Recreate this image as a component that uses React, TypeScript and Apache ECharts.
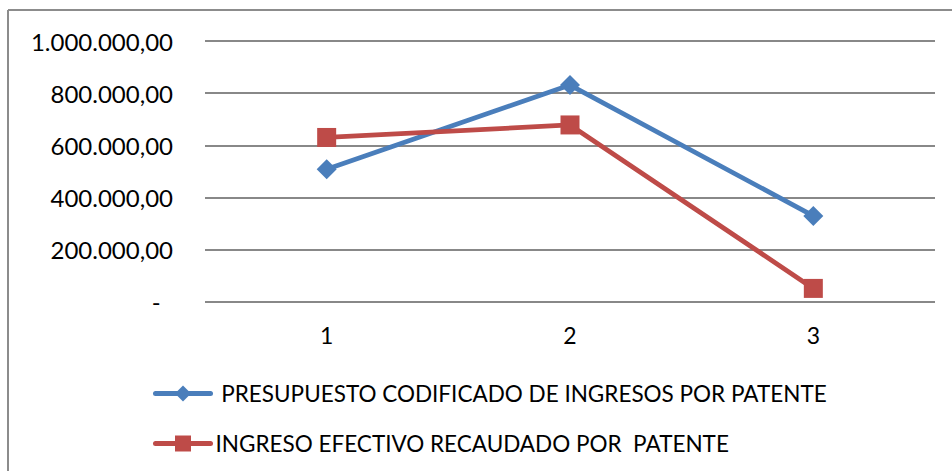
import React, { useEffect, useRef } from "react";
import * as echarts from "echarts";

const categories = ["1", "2", "3"];
const presupuesto = [508000, 831000, 329000];
const ingreso = [630000, 678000, 51000];
const seriesNames = [" PRESUPUESTO CODIFICADO DE INGRESOS POR PATENTE", "INGRESO EFECTIVO RECAUDADO POR  PATENTE"];
const yTicks = [0, 200000, 400000, 600000, 800000, 1000000];

const fmt = (v: number) => {
  if (v === 0) return "-  ";
  const s = Math.round(v).toString().replace(/\B(?=(\d{3})+(?!\d))/g, ".");
  return s + ",00";
};

export default function App() {
  const ref = useRef<HTMLDivElement>(null);
  useEffect(() => {
    const chart = echarts.init(ref.current!, null, { renderer: "svg" });
    const font = "Lato";
    chart.setOption({
      animation: false,
      backgroundColor: "#ffffff",
      textStyle: { fontFamily: font },
      grid: { left: 205, right: 17, top: 41, bottom: 471 - 301.7, containLabel: false },
      xAxis: {
        type: "category",
        data: categories,
        boundaryGap: true,
        axisLine: { show: false },
        axisTick: { show: false },
        axisLabel: { color: "#000", fontSize: 23, fontFamily: font, margin: 22 },
      },
      yAxis: {
        type: "value",
        min: yTicks[0],
        max: yTicks[yTicks.length - 1],
        interval: 200000,
        axisLine: { show: false },
        axisTick: { show: false },
        splitLine: { lineStyle: { color: "#888888", width: 2 } },
        axisLabel: { color: "#000", fontSize: 24, fontFamily: font, margin: 32, formatter: fmt },
      },
      legend: {
        orient: "vertical",
        left: 153,
        top: 382,
        padding: 0,
        itemWidth: 55,
        itemHeight: 20,
        itemGap: 27,
        lineStyle: { width: 5, cap: "round" },
        textStyle: { color: "#000", fontSize: 22.5, fontFamily: font, padding: [0, 0, 0, 0] },
        data: seriesNames,
      },
      graphic: [
        { type: "line", shape: { x1: 8, y1: 10, x2: 952, y2: 10 }, style: { stroke: "#8c8c8c", lineWidth: 2 } },
        { type: "line", shape: { x1: 8, y1: 10, x2: 8, y2: 471 }, style: { stroke: "#8c8c8c", lineWidth: 2 } },
      ],
      series: [
        {
          name: seriesNames[0],
          type: "line",
          data: presupuesto,
          symbol: "diamond",
          symbolSize: 20,
          itemStyle: { color: "#4a7ebb" },
          lineStyle: { color: "#4a7ebb", width: 4.8 },
        },
        {
          name: seriesNames[1],
          type: "line",
          data: ingreso,
          symbol: "rect",
          symbolSize: 19,
          itemStyle: { color: "#be4b48" },
          lineStyle: { color: "#be4b48", width: 4.8 },
        },
      ],
    });
    return () => chart.dispose();
  }, []);
  return <div ref={ref} style={{ position: "fixed", left: 0, top: 0, width: 952, height: 471 }} />;
}
